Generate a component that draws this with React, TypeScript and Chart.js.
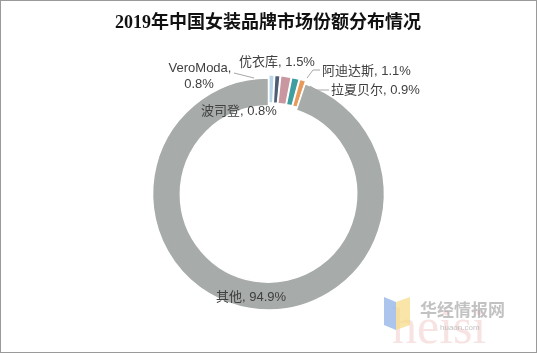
import React, { useEffect, useRef } from "react";
import { Chart, registerables } from "chart.js";

Chart.register(...registerables);

const TITLE = "2019年中国女装品牌市场份额分布情况";
const categories = ["波司登", "VeroModa", "优衣库", "阿迪达斯", "拉夏贝尔", "其他"];
const shares = [0.8, 0.8, 1.5, 1.1, 0.9, 94.9];
const colors = ["#b9d5e8", "#4f5d75", "#c9979f", "#3f9ea0", "#e89a5a", "#a7abaa"];
const offsets = [6, 6, 6, 6, 6, 0];

const SANS = "'Liberation Sans', 'Noto Sans CJK SC', sans-serif";

const labelsPlugin = {
  id: "customLabels",
  afterDraw(chart: any) {
    const ctx = chart.ctx as CanvasRenderingContext2D;
    ctx.save();
    // title
    ctx.fillStyle = "#111111";
    ctx.font = "bold 18px 'Liberation Serif', 'Noto Sans CJK SC', serif";
    ctx.textAlign = "center";
    ctx.textBaseline = "middle";
    ctx.fillText(TITLE, 268, 23);

    // leader lines
    ctx.strokeStyle = "#a6a6a6";
    ctx.lineWidth = 1;
    const line = (pts: number[][]) => {
      ctx.beginPath();
      ctx.moveTo(pts[0][0], pts[0][1]);
      for (let i = 1; i < pts.length; i++) ctx.lineTo(pts[i][0], pts[i][1]);
      ctx.stroke();
    };
    line([[234, 73], [254, 78]]);
    line([[320, 70], [313, 70], [307, 78]]);
    line([[329, 90], [316, 90], [310, 86]]);

    // labels
    const pct = (i: number) => shares[i].toFixed(1) + "%";
    ctx.fillStyle = "#404040";
    ctx.font = "13px " + SANS;
    ctx.textBaseline = "middle";
    ctx.textAlign = "center";
    ctx.fillText(categories[1] + ",", 200, 68);
    ctx.fillText(pct(1), 199, 84);
    ctx.fillText(categories[2] + ", " + pct(2), 277, 62);
    ctx.textAlign = "left";
    ctx.fillText(categories[3] + ", " + pct(3), 322, 71);
    ctx.fillText(categories[4] + ", " + pct(4), 331, 90);
    ctx.fillText(categories[0] + ", " + pct(0), 201, 111);
    ctx.fillText(categories[5] + ", " + pct(5), 216, 297);

    // watermark
    ctx.globalAlpha = 0.3;
    ctx.fillStyle = "#e7a3a3";
    ctx.font = "50px 'Liberation Serif', serif";
    ctx.textAlign = "left";
    ctx.textBaseline = "alphabetic";
    ctx.fillText("heisi", 392, 343);
    ctx.globalAlpha = 0.75;
    ctx.fillStyle = "#8fb1e6";
    ctx.beginPath();
    ctx.moveTo(384, 297);
    ctx.lineTo(396, 302);
    ctx.lineTo(396, 330);
    ctx.lineTo(384, 325);
    ctx.closePath();
    ctx.fill();
    ctx.fillStyle = "#f5dc8a";
    ctx.beginPath();
    ctx.moveTo(396, 302);
    ctx.lineTo(410, 297);
    ctx.lineTo(410, 325);
    ctx.lineTo(396, 330);
    ctx.closePath();
    ctx.fill();
    ctx.globalAlpha = 0.6;
    ctx.fillStyle = "#9a9a9a";
    ctx.font = "bold 17px 'Noto Sans CJK SC', sans-serif";
    ctx.textBaseline = "middle";
    ctx.fillText("华经情报网", 420, 310);
    ctx.font = "8px " + SANS;
    ctx.fillText("huaon.com", 440, 328);
    ctx.restore();
  },
};

export default function App() {
  const ref = useRef<HTMLCanvasElement | null>(null);
  useEffect(() => {
    document.body.style.margin = "0";
    const chart = new Chart(ref.current as HTMLCanvasElement, {
      type: "doughnut",
      data: {
        labels: categories,
        datasets: [
          {
            data: shares,
            backgroundColor: colors,
            borderColor: "#ffffff",
            borderWidth: 1.5,
            offset: offsets,
          },
        ],
      },
      options: {
        animation: false,
        responsive: false,
        radius: 116,
        cutout: "76%",
        layout: { padding: { top: 35, left: 0, right: 0, bottom: 0 } },
        plugins: {
          legend: { display: false },
          title: { display: false },
          tooltip: { enabled: false },
        },
      },
      plugins: [labelsPlugin],
    });
    return () => chart.destroy();
  }, []);
  return (
    <div
      style={{
        position: "relative",
        width: 537,
        height: 353,
        boxSizing: "border-box",
        border: "1px solid #9a9a9a",
        background: "#fff",
        overflow: "hidden",
      }}
    >
      <canvas
        ref={ref}
        width={537}
        height={353}
        style={{ position: "absolute", left: -1, top: -1 }}
      />
    </div>
  );
}
